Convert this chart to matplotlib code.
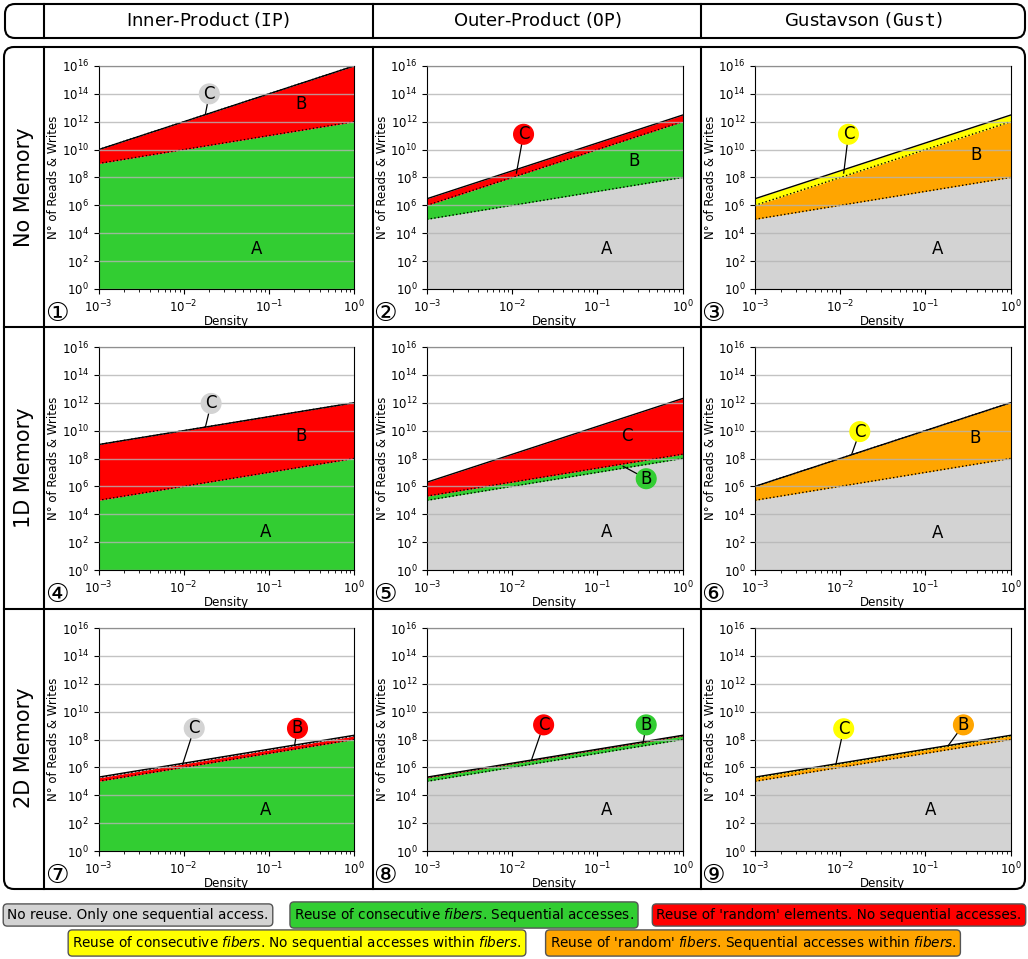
import numpy as np
import matplotlib.pyplot as plt
from matplotlib.patches import FancyBboxPatch

W, H = 1028, 959

# Density axis end points (lines are straight in log-log)
density = [1e-3, 1.0]

# Top of each stacked region at density 1e-3 and 1  (A, B, C)
ip_none_a, ip_none_b, ip_none_c = [1e9, 1e12], [1e10, 1e16], [1e10, 1e16]
op_none_a, op_none_b, op_none_c = [1e5, 1e8], [1e6, 1e12], [3e6, 3e12]
gu_none_a, gu_none_b, gu_none_c = [1e5, 1e8], [1e6, 1e12], [3e6, 3e12]
ip_1d_a, ip_1d_b, ip_1d_c = [1e5, 1e8], [1e9, 1e12], [1e9, 1e12]
op_1d_a, op_1d_b, op_1d_c = [1e5, 1e8], [2e5, 2e8], [2e6, 2e12]
gu_1d_a, gu_1d_b, gu_1d_c = [1e5, 1e8], [1e6, 1e12], [1e6, 1e12]
ip_2d_a, ip_2d_b, ip_2d_c = [1e5, 1e8], [1.8e5, 1.8e8], [2e5, 2e8]
op_2d_a, op_2d_b, op_2d_c = [1e5, 1e8], [1.8e5, 1.8e8], [2e5, 2e8]
gu_2d_a, gu_2d_b, gu_2d_c = [1e5, 1e8], [1.8e5, 1.8e8], [2e5, 2e8]

GRAY, GREEN, RED, YELLOW, ORANGE = 'lightgray', 'limegreen', 'red', 'yellow', 'orange'

col_titles = ['Inner-Product ($\\mathtt{IP}$)', 'Outer-Product ($\\mathtt{OP}$)',
              'Gustavson ($\\mathtt{Gust}$)']
row_titles = ['No Memory', '1D Memory', '2D Memory']

# (tops, colours, labels) per panel; label = (text, xy, xytext or None)
panels = [
    ([ip_none_a, ip_none_b, ip_none_c], [GREEN, RED, GRAY],
     [('A', (0.072, 10**2.87), None), ('B', (0.24, 10**13.3), None),
      ('C', (0.018, 10**12.55), (0.02, 10**14))]),
    ([op_none_a, op_none_b, op_none_c], [GRAY, GREEN, RED],
     [('A', (0.13, 10**2.9), None), ('B', (0.27, 10**9.2), None),
      ('C', (0.0112, 10**8.3), (0.0136, 10**11.1))]),
    ([gu_none_a, gu_none_b, gu_none_c], [GRAY, ORANGE, YELLOW],
     [('A', (0.14, 10**2.9), None), ('B', (0.39, 10**9.6), None),
      ('C', (0.011, 10**8.3), (0.0125, 10**11.1))]),
    ([ip_1d_a, ip_1d_b, ip_1d_c], [GREEN, RED, GRAY],
     [('A', (0.092, 10**2.7), None), ('B', (0.24, 10**9.6), None),
      ('C', (0.018, 10**10.26), (0.021, 10**11.95))]),
    ([op_1d_a, op_1d_b, op_1d_c], [GRAY, GREEN, RED],
     [('A', (0.13, 10**2.7), None), ('C', (0.22, 10**9.6), None),
      ('B', (0.2, 10**7.45), (0.375, 10**6.55))]),
    ([gu_1d_a, gu_1d_b, gu_1d_c], [GRAY, ORANGE, YELLOW],
     [('A', (0.14, 10**2.65), None), ('B', (0.38, 10**9.5), None),
      ('C', (0.0136, 10**8.27), (0.017, 10**9.93))]),
    ([ip_2d_a, ip_2d_b, ip_2d_c], [GREEN, RED, GRAY],
     [('A', (0.091, 10**2.96), None),
      ('B', (0.2, 10**7.55), (0.217, 10**8.8)),
      ('C', (0.0097, 10**6.2), (0.0133, 10**8.8))]),
    ([op_2d_a, op_2d_b, op_2d_c], [GRAY, GREEN, RED],
     [('A', (0.13, 10**2.96), None),
      ('C', (0.0168, 10**6.5), (0.0234, 10**9.05)),
      ('B', (0.343, 10**7.7), (0.375, 10**9.05))]),
    ([gu_2d_a, gu_2d_b, gu_2d_c], [GRAY, ORANGE, YELLOW],
     [('A', (0.116, 10**2.96), None),
      ('C', (0.0089, 10**6.2), (0.011, 10**8.77)),
      ('B', (0.185, 10**7.55), (0.28, 10**9.05))]),
]

legend_rows = [
    [('No reuse. Only one sequential access.', GRAY, 138),
     ('Reuse of consecutive $\\it{fibers}$. Sequential accesses.', GREEN, 464),
     ("Reuse of 'random' elements. No sequential accesses.", RED, 839)],
    [('Reuse of consecutive $\\it{fibers}$. No sequential accesses within $\\it{fibers}$.', YELLOW, 297),
     ("Reuse of 'random' $\\it{fibers}$. Sequential accesses within $\\it{fibers}$.", ORANGE, 753)],
]

fig = plt.figure(figsize=(W / 100, H / 100), dpi=100)

# overlay in pixel coordinates for the frame, headers and legend
ov = fig.add_axes([0, 0, 1, 1], zorder=-1)
ov.set_xlim(0, W)
ov.set_ylim(H, 0)
ov.axis('off')

ov.add_patch(FancyBboxPatch((5, 4), 1020, 34, boxstyle='round,pad=0,rounding_size=10',
                            fc='none', ec='black', lw=1.5))
ov.add_patch(FancyBboxPatch((4, 47), 1021, 842, boxstyle='round,pad=0,rounding_size=10',
                            fc='none', ec='black', lw=1.5))
for x in [44, 373, 701]:
    ov.plot([x, x], [4, 38], color='black', lw=1.5)
    ov.plot([x, x], [47, 889], color='black', lw=1.5)
for y in [327, 609]:
    ov.plot([4, 1025], [y, y], color='black', lw=1.5)

col_centers = [208, 537, 863]
row_centers = [187, 468, 748]
for t, xc in zip(col_titles, col_centers):
    ov.text(xc, 20, t, ha='center', va='center', fontsize=13)
for t, yc in zip(row_titles, row_centers):
    ov.text(24, yc, t, ha='center', va='center', fontsize=15, rotation=90)

ax_left = [98.5, 427, 755]
ax_top = [66, 347, 628]
ax_w, ax_h = 255.5, 223
num_x = [57, 385, 713]
num_y = [314, 595, 876]
circled = '①②③④⑤⑥⑦⑧⑨'

for i, (tops, cols, labels) in enumerate(panels):
    r, c = divmod(i, 3)
    ax = fig.add_axes([ax_left[c] / W, 1 - (ax_top[r] + ax_h) / H, ax_w / W, ax_h / H])
    a, b, cc = tops
    ax.fill_between(density, [1, 1], a, color=cols[0], lw=0)
    ax.fill_between(density, a, b, color=cols[1], lw=0)
    ax.fill_between(density, b, cc, color=cols[2], lw=0)
    ax.plot(density, a, color='black', ls=':', lw=1)
    ax.plot(density, b, color='black', ls=':', lw=1)
    ax.plot(density, cc, color='black', lw=1)
    ax.set_xscale('log')
    ax.set_yscale('log')
    ax.set_xlim(1e-3, 1)
    ax.set_ylim(1, 1e16)
    ax.set_yticks([10.0 ** k for k in range(0, 17, 2)])
    ax.yaxis.set_minor_locator(plt.NullLocator())
    ax.grid(axis='y', color='#b4b4b4', lw=1, alpha=0.8)
    ax.set_axisbelow(False)
    ax.tick_params(labelsize=8.5)
    ax.set_xlabel('Density', fontsize=8.5, labelpad=0)
    ax.set_ylabel('N° of Reads & Writes', fontsize=8.5, labelpad=1)
    for txt, xy, xytext in labels:
        if xytext is None:
            ax.text(xy[0], xy[1], txt, fontsize=12, ha='center', va='center')
        else:
            fc = {'A': cols[0], 'B': cols[1], 'C': cols[2]}[txt]
            ax.annotate(txt, xy=xy, xytext=xytext, fontsize=12, ha='center', va='center',
                        bbox=dict(boxstyle='circle,pad=0.05', fc=fc, ec=fc),
                        arrowprops=dict(arrowstyle='-', color='black', lw=0.9,
                                        shrinkA=0, shrinkB=0))
    ov.text(num_x[c], num_y[r], circled[i], ha='center', va='center', fontsize=19)

for yc, row in zip([915, 943], legend_rows):
    for txt, color, xc in row:
        ov.text(xc, yc, txt, ha='center', va='center', fontsize=9.8,
                bbox=dict(boxstyle='round,pad=0.3', fc=color, ec='#555555', lw=1))

fig.savefig('out.png', dpi=100)
